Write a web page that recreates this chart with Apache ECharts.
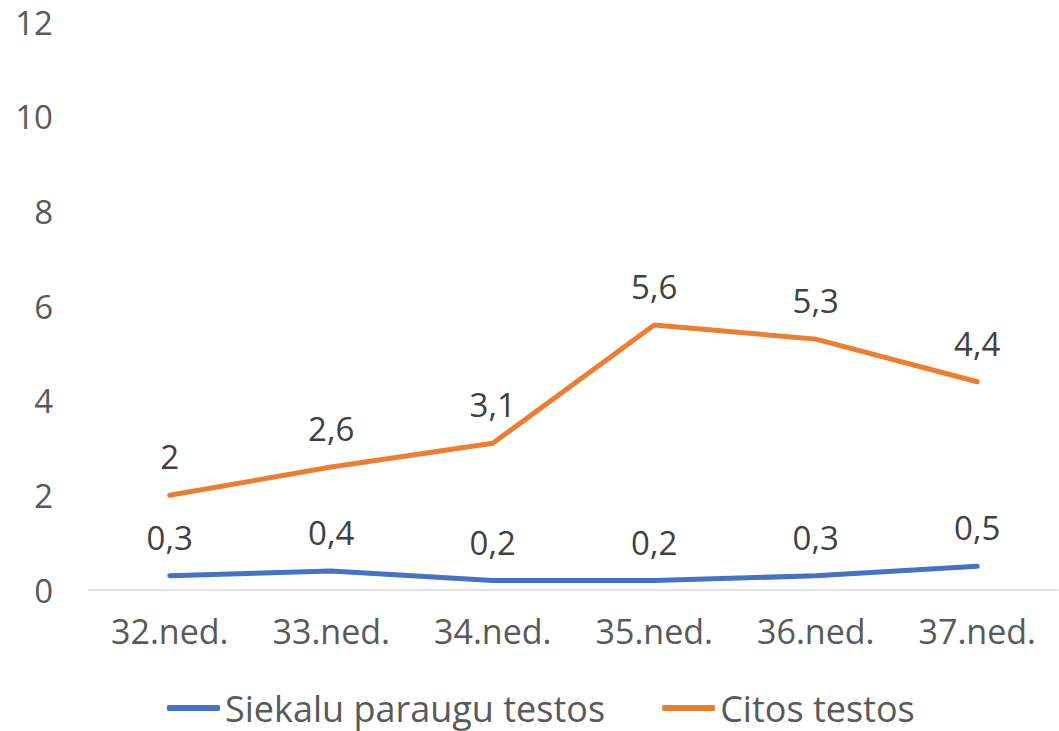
<!DOCTYPE html>
<html>
<head>
<meta charset="utf-8">
<script src="https://cdn.jsdelivr.net/npm/echarts@6/dist/echarts.min.js"></script>
<style>
  html, body { margin: 0; padding: 0; background: #fff; }
  #chart { width: 1059px; height: 731px; }
</style>
</head>
<body>
<div id="chart"></div>
<script>
const chart = echarts.init(document.getElementById('chart'), null, { renderer: 'svg' });

// dati
const weeks = ['32.ned.', '33.ned.', '34.ned.', '35.ned.', '36.ned.', '37.ned.'];
const saliva = [0.3, 0.4, 0.2, 0.2, 0.3, 0.5];
const other = [2, 2.6, 3.1, 5.6, 5.3, 4.4];
const yTicks = [0, 2, 4, 6, 8, 10, 12];

const font = '"Open Sans", "Noto Sans", sans-serif';
const fmt = p => String(p.value).replace('.', ',');

const lineSeries = (name, data, color) => ({
    name: name,
    type: 'line',
    data: data,
    symbol: 'circle',
    symbolSize: 0,
    showSymbol: true,
    color: color,
    lineStyle: { width: 5, cap: 'round' },
    label: {
        show: true, position: 'top', distance: 22,
        color: '#404040', fontSize: 33, fontFamily: font, formatter: fmt
    }
});

chart.setOption({
    textStyle: { fontFamily: font },
    grid: { left: 89, right: 1, top: 22, bottom: 141 },
    xAxis: {
        type: 'category',
        data: weeks,
        boundaryGap: true,
        axisLine: { lineStyle: { color: '#d9d9d9', width: 1.5 } },
        axisTick: { show: false },
        axisLabel: { color: '#595959', fontSize: 34, margin: 24, fontFamily: font }
    },
    yAxis: {
        type: 'value',
        min: yTicks[0],
        max: yTicks[yTicks.length - 1],
        interval: 2,
        splitLine: { show: false },
        axisLine: { show: false },
        axisTick: { show: false },
        axisLabel: { color: '#595959', fontSize: 33, margin: 36, fontFamily: font }
    },
    legend: {
        top: 688,
        left: 167,
        padding: 0,
        icon: 'roundRect',
        itemWidth: 53,
        itemHeight: 6,
        itemGap: 57,
        textStyle: { color: '#595959', fontSize: 36, lineHeight: 40, fontFamily: font },
        data: ['Siekalu paraugu testos', 'Citos testos']
    },
    series: [
        lineSeries('Siekalu paraugu testos', saliva, '#4472C4'),
        lineSeries('Citos testos', other, '#ED7D31')
    ]
});
</script>
</body>
</html>
